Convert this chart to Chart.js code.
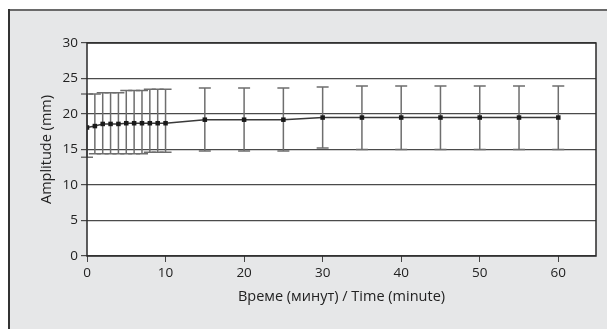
<!DOCTYPE html>
<html>
<head>
<meta charset="utf-8">
<script src="https://cdn.jsdelivr.net/npm/chart.js@4/dist/chart.umd.min.js"></script>
<style>
  html, body { margin: 0; padding: 0; background: #ffffff; }
  #wrap { width: 607px; height: 329px; position: relative; }
</style>
</head>
<body>
<div id="wrap"><canvas id="c" width="607" height="329"></canvas></div>
<script>
// ---- data ----
const times = [0, 1, 2, 3, 4, 5, 6, 7, 8, 9, 10, 15, 20, 25, 30, 35, 40, 45, 50, 55, 60];
const means = [18.1, 18.3, 18.6, 18.6, 18.6, 18.7, 18.7, 18.7, 18.7, 18.7, 18.7, 19.2, 19.2, 19.2, 19.5, 19.5, 19.5, 19.5, 19.5, 19.5, 19.5];
const upper = [22.8, 22.8, 23.0, 23.0, 23.0, 23.3, 23.3, 23.3, 23.5, 23.5, 23.5, 23.65, 23.65, 23.65, 23.8, 23.95, 23.95, 23.95, 23.95, 23.95, 23.95];
const lower = [13.9, 14.4, 14.4, 14.4, 14.4, 14.4, 14.4, 14.4, 14.6, 14.6, 14.6, 14.8, 14.8, 14.8, 15.2, 15.0, 15.0, 15.0, 15.0, 15.0, 15.0];
const xTicks = [0, 10, 20, 30, 40, 50, 60];
const yTicks = [0, 5, 10, 15, 20, 25, 30];
const xTitle = 'Време (минут) / Time (minute)';
const yTitle = 'Amplitude (mm)';

const points = times.map((t, i) => ({ x: t, y: means[i] }));

const framePlugin = {
  id: 'frame',
  beforeDraw(chart) {
    const ctx = chart.ctx;
    ctx.save();
    ctx.fillStyle = '#e6e7e8';
    ctx.fillRect(8, 9, chart.width - 8, chart.height - 9);
    ctx.fillStyle = '#ffffff';
    const a = chart.chartArea;
    ctx.fillRect(a.left, a.top, a.right - a.left, a.bottom - a.top);
    ctx.strokeStyle = '#6a6a6a';
    ctx.lineWidth = 2;
    ctx.beginPath();
    ctx.moveTo(8, 10); ctx.lineTo(chart.width, 10);
    ctx.stroke();
    ctx.strokeStyle = '#333333';
    ctx.beginPath();
    ctx.moveTo(9, 9); ctx.lineTo(9, chart.height);
    ctx.stroke();
    ctx.restore();
  },
  afterDatasetsDraw(chart) {
    const ctx = chart.ctx;
    const a = chart.chartArea;
    ctx.save();
    ctx.strokeStyle = '#2a2a2a';
    ctx.lineWidth = 1.5;
    ctx.strokeRect(a.left, a.top, a.right - a.left, a.bottom - a.top);
    ctx.restore();
  }
};

const errorBarPlugin = {
  id: 'errorBars',
  beforeDatasetsDraw(chart) {
    const ctx = chart.ctx;
    const xs = chart.scales.x, ys = chart.scales.y;
    ctx.save();
    ctx.strokeStyle = '#6e6e6e';
    ctx.lineWidth = 1.5;
    for (let i = 0; i < times.length; i++) {
      const px = xs.getPixelForValue(times[i]);
      const pTop = ys.getPixelForValue(upper[i]);
      const pBot = ys.getPixelForValue(lower[i]);
      ctx.beginPath();
      ctx.moveTo(px, pTop); ctx.lineTo(px, pBot);
      ctx.moveTo(px - 6, pTop); ctx.lineTo(px + 6, pTop);
      ctx.moveTo(px - 6, pBot); ctx.lineTo(px + 6, pBot);
      ctx.stroke();
    }
    ctx.restore();
  }
};

new Chart(document.getElementById('c'), {
  type: 'line',
  data: {
    datasets: [{
      data: points,
      borderColor: '#3a3a3a',
      borderWidth: 1.5,
      pointStyle: 'rect',
      pointRadius: 3.2,
      pointBackgroundColor: '#1a1a1a',
      pointBorderColor: '#1a1a1a',
      pointBorderWidth: 0,
      tension: 0,
      fill: false
    }]
  },
  options: {
    responsive: false,
    animation: false,
    events: [],
    layout: { padding: { left: 0, top: 43, right: 11, bottom: 0 } },
    plugins: { legend: { display: false }, tooltip: { enabled: false } },
    scales: {
      x: {
        type: 'linear',
        min: 0,
        max: 64.8,
        afterBuildTicks(scale) { scale.ticks = xTicks.map(v => ({ value: v })); },
        afterFit(scale) { scale.height = 73; },
        grid: { drawOnChartArea: false, drawTicks: true, tickLength: 6, color: '#444', lineWidth: 1 },
        border: { display: false },
        ticks: { color: '#222', font: { family: 'Open Sans', size: 13.5 }, padding: 3, maxRotation: 0 },
        title: { display: true, text: xTitle, color: '#222', font: { family: 'Open Sans', size: 14.5 }, padding: { top: 2, bottom: 23 } }
      },
      y: {
        min: 0,
        max: 30,
        afterBuildTicks(scale) { scale.ticks = yTicks.map(v => ({ value: v })); },
        afterFit(scale) { scale.width = 87; },
        grid: { drawOnChartArea: true, drawTicks: true, tickLength: 6, color: '#4a4a4a', lineWidth: 1.2 },
        border: { display: false },
        ticks: { color: '#222', font: { family: 'Open Sans', size: 13.5 }, padding: 3 },
        title: { display: true, text: yTitle, color: '#222', font: { family: 'Open Sans', size: 14.5 }, padding: { top: 38, bottom: 0 } }
      }
    }
  },
  plugins: [framePlugin, errorBarPlugin]
});
</script>
</body>
</html>
